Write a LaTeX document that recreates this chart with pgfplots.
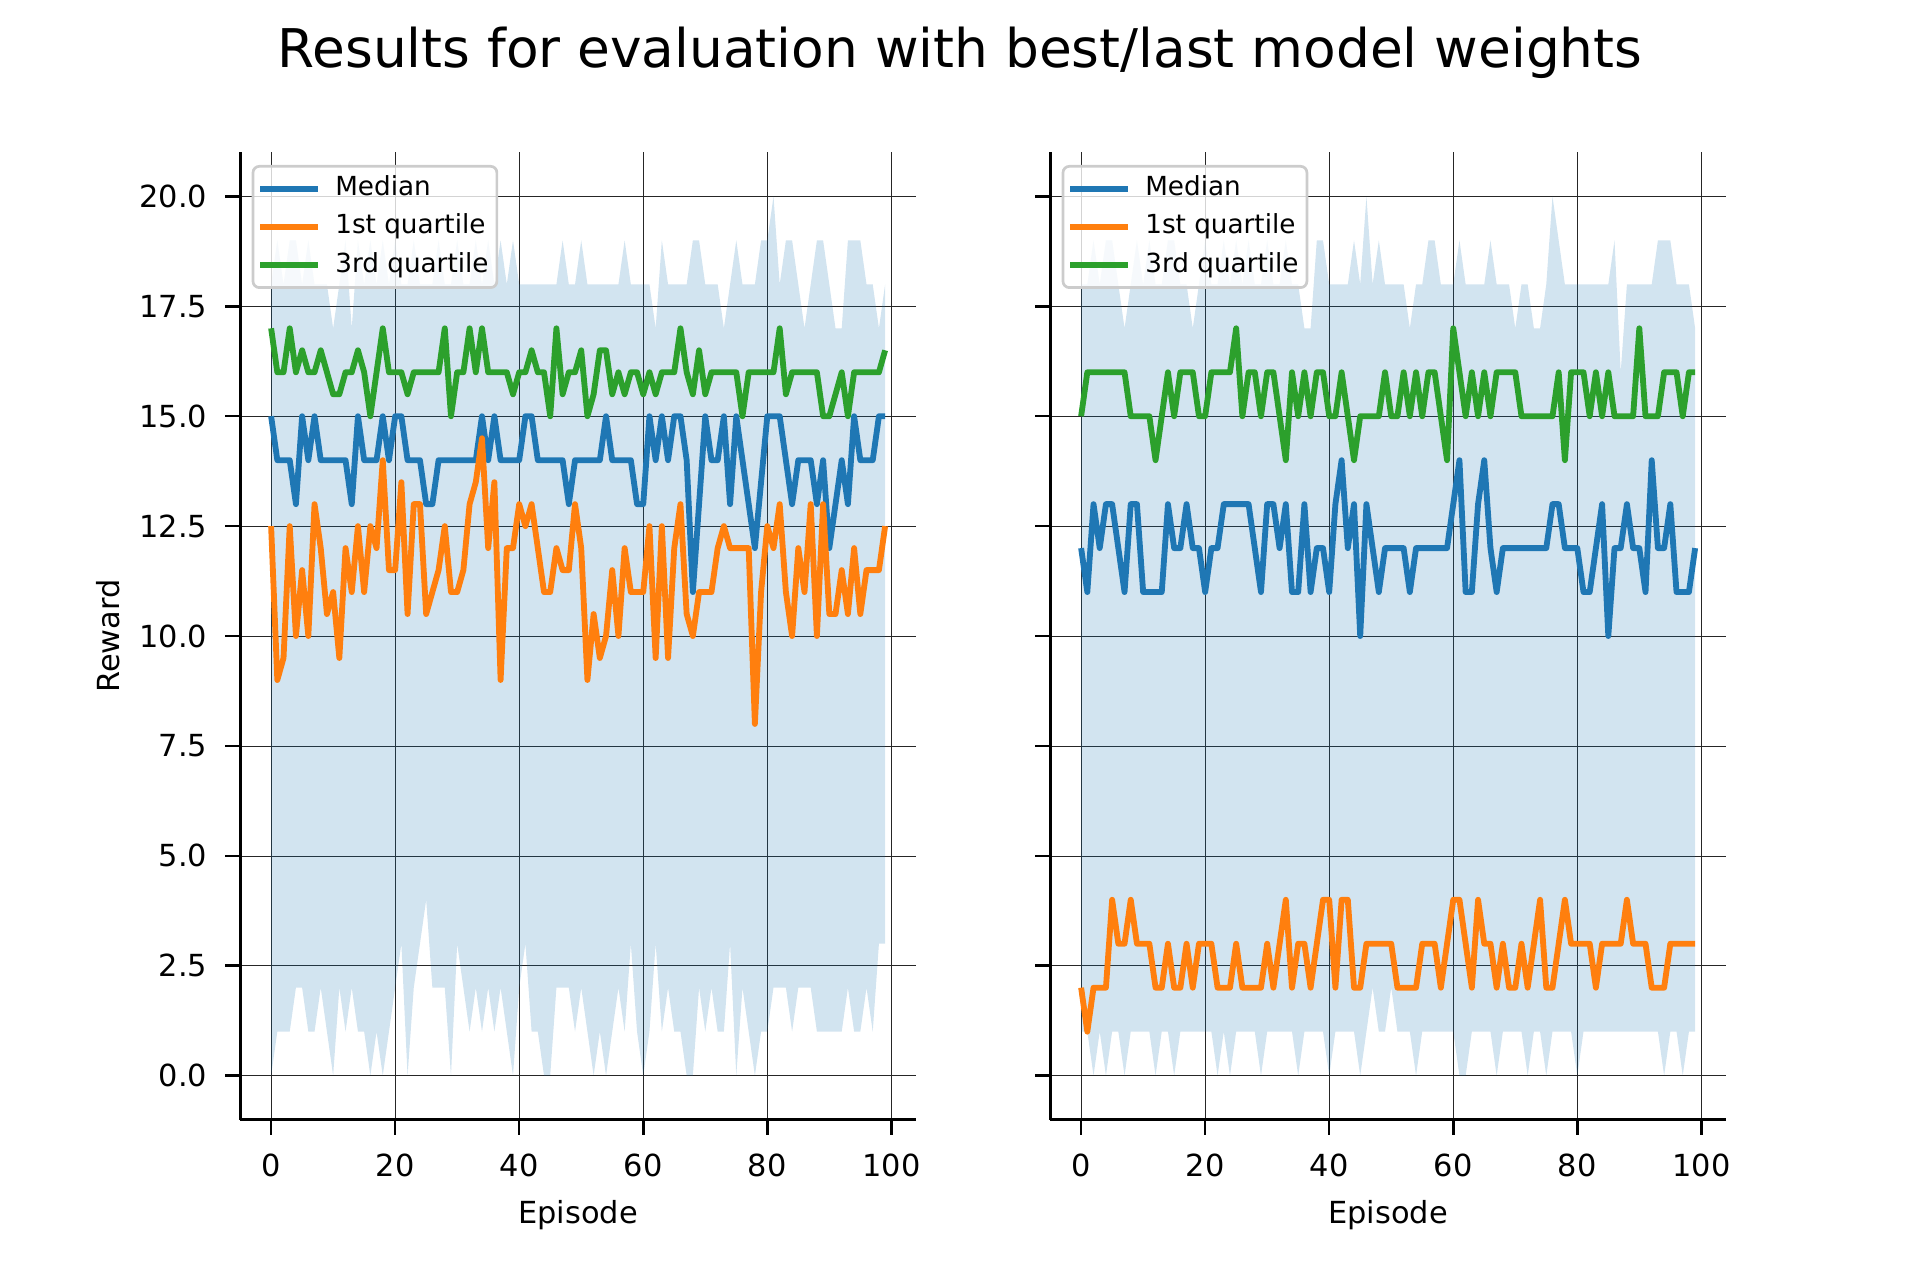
\documentclass[border=0pt]{standalone}
\usepackage{fontspec}
\setmainfont{DejaVu Sans}
\usepackage{pgfplots}
\usepackage{pgfplotstable}
\usepgfplotslibrary{fillbetween}
\pgfplotsset{compat=1.18}
\definecolor{tabblue}{HTML}{1F77B4}
\definecolor{taborange}{HTML}{FF7F0E}
\definecolor{tabgreen}{HTML}{2CA02C}

\pgfplotstableread{
x med q1 q3 mn mx
0 15 12.5 17 0 18
1 14 9 16 1 19
2 14 9.5 16 1 18
3 14 12.5 17 1 19
4 13 10 16 2 19
5 15 11.5 16.5 2 18
6 14 10 16 1 19
7 15 13 16 1 18
8 14 12 16.5 2 18
9 14 10.5 16 1 18
10 14 11 15.5 0 17
11 14 9.5 15.5 2 18
12 14 12 16 1 19
13 13 11 16 2 17
14 15 12.5 16.5 1 19
15 14 11 16 1 18
16 14 12.5 15 0 19
17 14 12 16 1 18
18 15 14 17 0 19
19 14 11.5 16 1 18
20 15 11.5 16 2 19
21 15 13.5 16 3 18
22 14 10.5 15.5 0 18
23 14 13 16 2 19
24 14 13 16 3 18
25 13 10.5 16 4 18
26 13 11 16 2 18
27 14 11.5 16 2 19
28 14 12.5 17 2 18
29 14 11 15 0 18
30 14 11 16 3 19
31 14 11.5 16 2 18
32 14 13 17 1 18
33 14 13.5 16 2 19
34 15 14.5 17 1 18
35 14 12 16 2 19
36 15 13.5 16 1 18
37 14 9 16 2 19
38 14 12 16 1 18
39 14 12 15.5 0 19
40 14 13 16 2 18
41 15 12.5 16 3 18
42 15 13 16.5 1 18
43 14 12 16 1 18
44 14 11 16 0 18
45 14 11 15 0 18
46 14 12 17 2 18
47 14 11.5 15.5 2 19
48 13 11.5 16 2 18
49 14 13 16 1 18
50 14 12 16.5 2 19
51 14 9 15 1 18
52 14 10.5 15.5 0 18
53 14 9.5 16.5 1 18
54 15 10 16.5 0 18
55 14 11.5 15.5 1 18
56 14 10 16 2 18
57 14 12 15.5 1 19
58 14 11 16 3 18
59 13 11 16 1 18
60 13 11 15.5 0 18
61 15 12.5 16 1 18
62 14 9.5 15.5 3 17
63 15 12.5 16 1 19
64 14 9.5 16 2 18
65 15 12 16 1 18
66 15 13 17 1 18
67 14 10.5 16 0 18
68 11 10 15.5 0 19
69 13 11 16.5 2 19
70 15 11 15.5 1 18
71 14 11 16 2 18
72 14 12 16 1 18
73 15 12.5 16 1 17
74 13 12 16 3 18
75 15 12 16 0 19
76 14 12 15 2 18
77 13 12 16 1 18
78 12 8 16 0 18
79 13.5 11 16 1 19
80 15 12.5 16 1 19
81 15 12 16 2 20
82 15 13 17 2 18
83 14 11 15.5 2 19
84 13 10 16 1 19
85 14 12 16 2 18
86 14 11 16 2 17
87 14 13 16 2 18
88 13 10 16 1 19
89 14 13 15 1 19
90 12 10.5 15 1 18
91 13 10.5 15.5 1 17
92 14 11.5 16 1 17
93 13 10.5 15 2 19
94 15 12 16 1 19
95 14 10.5 16 1 19
96 14 11.5 16 2 18
97 14 11.5 16 1 18
98 15 11.5 16 3 17
99 15 12.5 16.5 3 18
}\leftdata

\pgfplotstableread{
x med q1 q3 mn mx
0 12 2 15 1 18
1 11 1 16 1 18
2 13 2 16 0 19
3 12 2 16 1 18
4 13 2 16 0 19
5 13 4 16 1 19
6 12 3 16 1 18
7 11 3 16 0 17
8 13 4 15 1 18
9 13 3 15 1 19
10 11 3 15 1 18
11 11 3 15 1 19
12 11 2 14 0 18
13 11 2 15 1 18
14 13 3 16 1 19
15 12 2 15 0 19
16 12 2 16 1 18
17 13 3 16 1 18
18 12 2 16 1 17
19 12 3 15 1 18
20 11 3 15 1 19
21 12 3 16 1 18
22 12 2 16 0 18
23 13 2 16 1 19
24 13 2 16 0 18
25 13 3 17 1 19
26 13 2 15 1 18
27 13 2 16 1 19
28 12 2 16 1 18
29 11 2 15 0 18
30 13 3 16 1 19
31 13 2 16 1 18
32 12 3 15 1 18
33 13 4 14 1 19
34 11 2 16 1 18
35 11 3 15 0 18
36 13 3 16 1 17
37 11 2 15 1 17
38 12 3 16 1 19
39 12 4 16 1 19
40 11 4 15 0 18
41 13 2 15 1 18
42 14 4 16 1 18
43 12 4 15 1 18
44 13 2 14 1 19
45 10 2 15 0 18
46 13 3 15 1 20
47 12 3 15 2 18
48 11 3 15 1 19
49 12 3 16 1 18
50 12 3 15 2 18
51 12 2 15 1 18
52 12 2 16 1 18
53 11 2 15 1 17
54 12 2 16 0 18
55 12 3 15 1 18
56 12 3 16 1 19
57 12 3 16 1 19
58 12 2 15 1 18
59 12 3 14 1 18
60 13 4 17 1 18
61 14 4 16 0 19
62 11 3 15 0 18
63 11 2 16 1 18
64 13 4 15 1 18
65 14 3 16 1 18
66 12 3 15 1 19
67 11 2 16 0 18
68 12 3 16 1 18
69 12 2 16 1 18
70 12 2 16 1 17
71 12 3 15 1 18
72 12 2 15 0 18
73 12 3 15 1 17
74 12 4 15 1 17
75 12 2 15 0 18
76 13 2 15 1 20
77 13 3 16 1 19
78 12 4 14 1 18
79 12 3 16 1 18
80 12 3 16 0 18
81 11 3 16 1 18
82 11 3 15 1 18
83 12 2 16 1 18
84 13 3 15 1 18
85 10 3 16 1 18
86 12 3 15 1 19
87 12 3 15 1 16
88 13 4 15 1 18
89 12 3 15 1 18
90 12 3 17 1 18
91 11 3 15 1 18
92 14 2 15 1 18
93 12 2 15 1 19
94 12 2 16 0 19
95 13 3 16 1 19
96 11 3 16 1 18
97 11 3 15 0 18
98 11 3 16 1 18
99 12 3 16 1 17
}\rightdata

\pgfplotsset{
  panel/.style={
    scale only axis,
    width=162.1pt, height=232.1pt,
    xmin=-4.95, xmax=103.95,
    ymin=-1, ymax=21,
    axis lines*=left,
    axis line style={line width=0.6pt, black},
    tick align=outside,
    major tick length=3.6pt,
    tick style={line width=0.6pt, black},
    xtick={0,20,40,60,80,100},
    xticklabels={0,20,40,60,80,100},
    ytick={0,2.5,5,7.5,10,12.5,15,17.5,20},
    grid=major,
    major grid style={line width=0.15pt, draw=black!85},
    tick label style={font=\fontsize{7.3}{8.8}\selectfont},
    xticklabel style={anchor=north, inner sep=0pt},
    yticklabel style={anchor=east, inner sep=0pt},
    xticklabel shift=4.5pt,
    yticklabel shift=4.2pt,
    every axis x label/.style={at={(axis description cs:0.5,0)}, anchor=base, yshift=-24.9pt, font=\fontsize{7.3}{8.8}\selectfont},
    every axis y label/.style={at={(axis description cs:0,0.5)}, xshift=-31.7pt, rotate=90, anchor=center, inner sep=0pt, font=\fontsize{7.3}{8.8}\selectfont},
    xlabel={Episode},
    legend cell align=left,
    legend style={at={(0,1)}, anchor=north west, xshift=2.7pt, yshift=-3pt,
      draw=black!20, line width=0.65pt, fill=white, fill opacity=0.8, text opacity=1,
      rounded corners=1.5pt, inner xsep=1pt, inner ysep=2.3pt,
      font=\fontsize{6.3}{7.5}\selectfont, row sep=3.1pt, column sep=2.4pt,
      nodes={inner xsep=1pt, inner ysep=0pt, text height=4.7pt, text depth=1.4pt}},
    legend image code/.code={\draw[#1, line width=1.45pt] (0pt,0pt) -- (13.9pt,0pt);},
    every axis plot/.append style={line width=1.4pt, line join=round},
  }
}

\begin{document}
\begin{tikzpicture}
\path (0,0) rectangle (460.8pt,307.2pt);

\begin{axis}[panel, at={(57.7pt,38.5pt)}, anchor=south west,
  ylabel={Reward},
  yticklabels={0.0,2.5,5.0,7.5,10.0,12.5,15.0,17.5,20.0}]
  \addplot[name path=maxL, draw=none, forget plot] table[x=x, y=mx] {\leftdata};
  \addplot[name path=minL, draw=none, forget plot] table[x=x, y=mn] {\leftdata};
  \addplot[fill=tabblue, fill opacity=0.2, draw=none, forget plot] fill between[of=maxL and minL];
  \addplot[tabblue] table[x=x, y=med] {\leftdata};
  \addlegendentry{Median}
  \addplot[taborange] table[x=x, y=q1] {\leftdata};
  \addlegendentry{1st quartile}
  \addplot[tabgreen] table[x=x, y=q3] {\leftdata};
  \addlegendentry{3rd quartile}
\end{axis}

\begin{axis}[panel, at={(252.1pt,38.5pt)}, anchor=south west,
  yticklabels={,,,,,,,,}]
  \addplot[name path=maxR, draw=none, forget plot] table[x=x, y=mx] {\rightdata};
  \addplot[name path=minR, draw=none, forget plot] table[x=x, y=mn] {\rightdata};
  \addplot[fill=tabblue, fill opacity=0.2, draw=none, forget plot] fill between[of=maxR and minR];
  \addplot[tabblue] table[x=x, y=med] {\rightdata};
  \addlegendentry{Median}
  \addplot[taborange] table[x=x, y=q1] {\rightdata};
  \addlegendentry{1st quartile}
  \addplot[tabgreen] table[x=x, y=q3] {\rightdata};
  \addlegendentry{3rd quartile}
\end{axis}

\node[anchor=base, inner sep=0pt, font=\fontsize{12.8}{15}\selectfont] at (230.4pt,291pt) {Results for evaluation with best/last model weights};
\end{tikzpicture}
\end{document}
